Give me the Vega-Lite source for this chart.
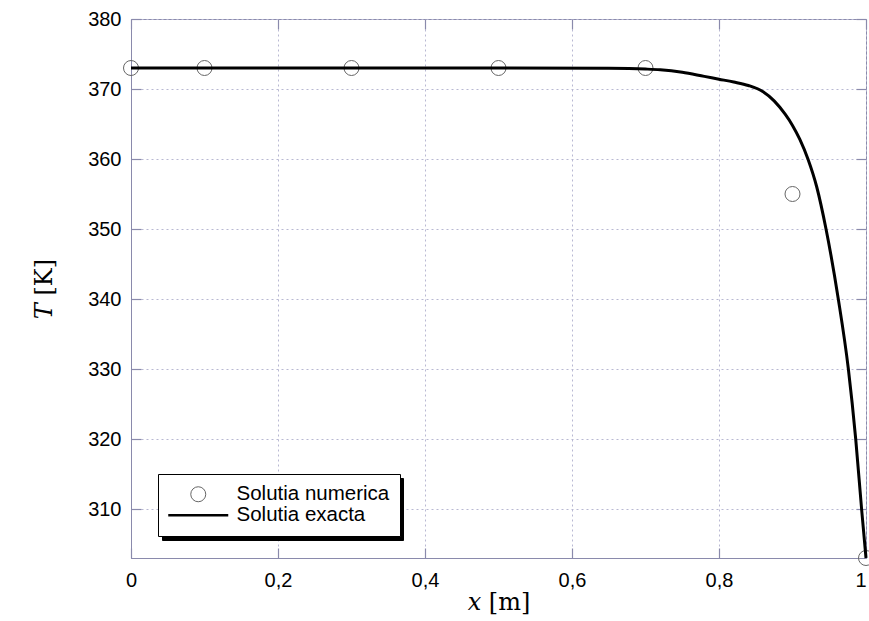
{
  "$schema": "https://vega.github.io/schema/vega-lite/v6.json",
  "width": 735,
  "height": 539,
  "autosize": "none",
  "padding": {"left": 131, "top": 19, "right": 3, "bottom": 63},
  "background": "white",
  "config": {
    "font": "Liberation Sans",
    "view": {"stroke": "#8a8aac", "strokeWidth": 1},
    "axis": {
      "domainColor": "#8a8aac",
      "tickColor": "#8a8aac",
      "tickWidth": 1.2,
      "gridColor": "#b8b8d2",
      "gridDash": [2, 3],
      "gridWidth": 1,
      "labelFontSize": 20,
      "labelColor": "black",
      "labelFont": "Liberation Sans",
      "titleFont": "DejaVu Serif",
      "titleFontWeight": "normal",
      "titleFontSize": 24,
      "titleColor": "black"
    }
  },
  "datasets": {
    "numerica": [
      {"x": 0.0, "T": 373, "series": "Solutia numerica"},
      {"x": 0.1, "T": 373, "series": "Solutia numerica"},
      {"x": 0.3, "T": 373, "series": "Solutia numerica"},
      {"x": 0.5, "T": 373, "series": "Solutia numerica"},
      {"x": 0.7, "T": 373, "series": "Solutia numerica"},
      {"x": 0.9, "T": 355, "series": "Solutia numerica"},
      {"x": 1.0, "T": 303, "series": "Solutia numerica"}
    ],
    "exacta": [
      {"x": 0.0, "T": 373, "series": "Solutia exacta"},
      {"x": 0.5, "T": 373, "series": "Solutia exacta"},
      {"x": 0.65, "T": 372.95, "series": "Solutia exacta"},
      {"x": 0.7, "T": 372.85, "series": "Solutia exacta"},
      {"x": 0.72, "T": 372.75, "series": "Solutia exacta"},
      {"x": 0.75, "T": 372.4, "series": "Solutia exacta"},
      {"x": 0.78, "T": 371.8, "series": "Solutia exacta"},
      {"x": 0.8, "T": 371.4, "series": "Solutia exacta"},
      {"x": 0.82, "T": 371.0, "series": "Solutia exacta"},
      {"x": 0.84, "T": 370.5, "series": "Solutia exacta"},
      {"x": 0.86, "T": 369.6, "series": "Solutia exacta"},
      {"x": 0.875, "T": 368.3, "series": "Solutia exacta"},
      {"x": 0.89, "T": 366.4, "series": "Solutia exacta"},
      {"x": 0.9, "T": 364.8, "series": "Solutia exacta"},
      {"x": 0.91, "T": 362.8, "series": "Solutia exacta"},
      {"x": 0.921, "T": 360.0, "series": "Solutia exacta"},
      {"x": 0.933, "T": 356.0, "series": "Solutia exacta"},
      {"x": 0.9456, "T": 350.0, "series": "Solutia exacta"},
      {"x": 0.9623, "T": 340.0, "series": "Solutia exacta"},
      {"x": 0.976, "T": 330.0, "series": "Solutia exacta"},
      {"x": 0.986, "T": 320.0, "series": "Solutia exacta"},
      {"x": 0.994, "T": 310.0, "series": "Solutia exacta"},
      {"x": 1.0, "T": 303.0, "series": "Solutia exacta"}
    ]
  },
  "layer": [
    {
      "data": {"name": "numerica"},
      "mark": {"type": "point", "filled": false, "size": 225, "opacity": 1},
      "encoding": {
        "x": {
          "field": "x", "type": "quantitative",
          "scale": {"domain": [0, 1], "nice": false},
          "axis": {
            "orient": "bottom", "values": [0, 0.2, 0.4, 0.6, 0.8, 1],
            "labelExpr": "replace(format(datum.value, '.1~f'), '.', ',')",
            "labelFlush": false,
            "labelAlign": {"condition": {"test": "datum.value == 1", "value": "right"}, "value": "center"},
            "grid": true, "ticks": true,
            "tickSize": -10, "labelPadding": 22,
            "title": "𝑥 [m]", "titlePadding": 0
          }
        },
        "y": {
          "field": "T", "type": "quantitative",
          "scale": {"domain": [303, 380], "nice": false, "zero": false},
          "axis": {
            "orient": "left", "values": [310, 320, 330, 340, 350, 360, 370, 380],
            "grid": true, "ticks": true,
            "tickSize": -10, "labelPadding": 20,
            "title": "𝑇 [K]", "titlePadding": 31
          }
        },
        "shape": {
          "field": "series", "type": "nominal",
          "scale": {"domain": ["Solutia numerica", "Solutia exacta"], "range": ["circle", "M-4,0H4"]},
          "legend": {
            "title": null,
            "orient": "none",
            "legendX": 27,
            "legendY": 455,
            "zindex": 3,
            "padding": 10,
            "fillColor": "white",
            "strokeColor": "black",
            "symbolSize": 225,
            "symbolOffset": 20,
            "symbolFillColor": "transparent",
            "labelFontSize": 20.5,
            "labelColor": "black",
            "labelOffset": 28,
            "rowPadding": 0,
            "encode": {
              "legend": {"update": {"strokeWidth": {"value": 2}}}
            }
          }
        },
        "color": {
          "field": "series", "type": "nominal",
          "scale": {"domain": ["Solutia numerica", "Solutia exacta"], "range": ["#666666", "#000000"]}
        },
        "strokeWidth": {
          "field": "series", "type": "nominal",
          "scale": {"domain": ["Solutia numerica", "Solutia exacta"], "range": [1, 2.5]}
        }
      }
    },
    {
      "data": {"name": "exacta"},
      "mark": {"type": "line", "color": "black", "strokeWidth": 3, "interpolate": "monotone"},
      "encoding": {
        "x": {
          "field": "x", "type": "quantitative",
          "scale": {"domain": [0, 1], "nice": false},
          "axis": {"orient": "top", "values": [0, 0.2, 0.4, 0.6, 0.8, 1], "labels": false, "grid": false, "ticks": true, "title": null, "tickSize": -10, "domain": false}
        },
        "y": {
          "field": "T", "type": "quantitative",
          "scale": {"domain": [303, 380], "nice": false, "zero": false},
          "axis": {"orient": "right", "values": [310, 320, 330, 340, 350, 360, 370, 380], "labels": false, "grid": false, "ticks": true, "title": null, "tickSize": -10, "domain": false}
        },
        "opacity": {
          "field": "series", "type": "nominal",
          "scale": {"domain": ["Solutia exacta"], "range": [1]},
          "legend": {
            "title": null,
            "orient": "none",
            "legendX": 31,
            "legendY": 459,
            "zindex": 1,
            "padding": 10,
            "fillColor": "black",
            "strokeColor": "black",
            "symbolType": "square",
            "symbolSize": 1444,
            "symbolOffset": 0,
            "symbolFillColor": "black",
            "symbolStrokeColor": "black",
            "labelExpr": "''",
            "labelFontSize": 1,
            "labelOffset": 181
          }
        }
      }
    }
  ],
  "resolve": {"axis": {"x": "independent", "y": "independent"}}
}
